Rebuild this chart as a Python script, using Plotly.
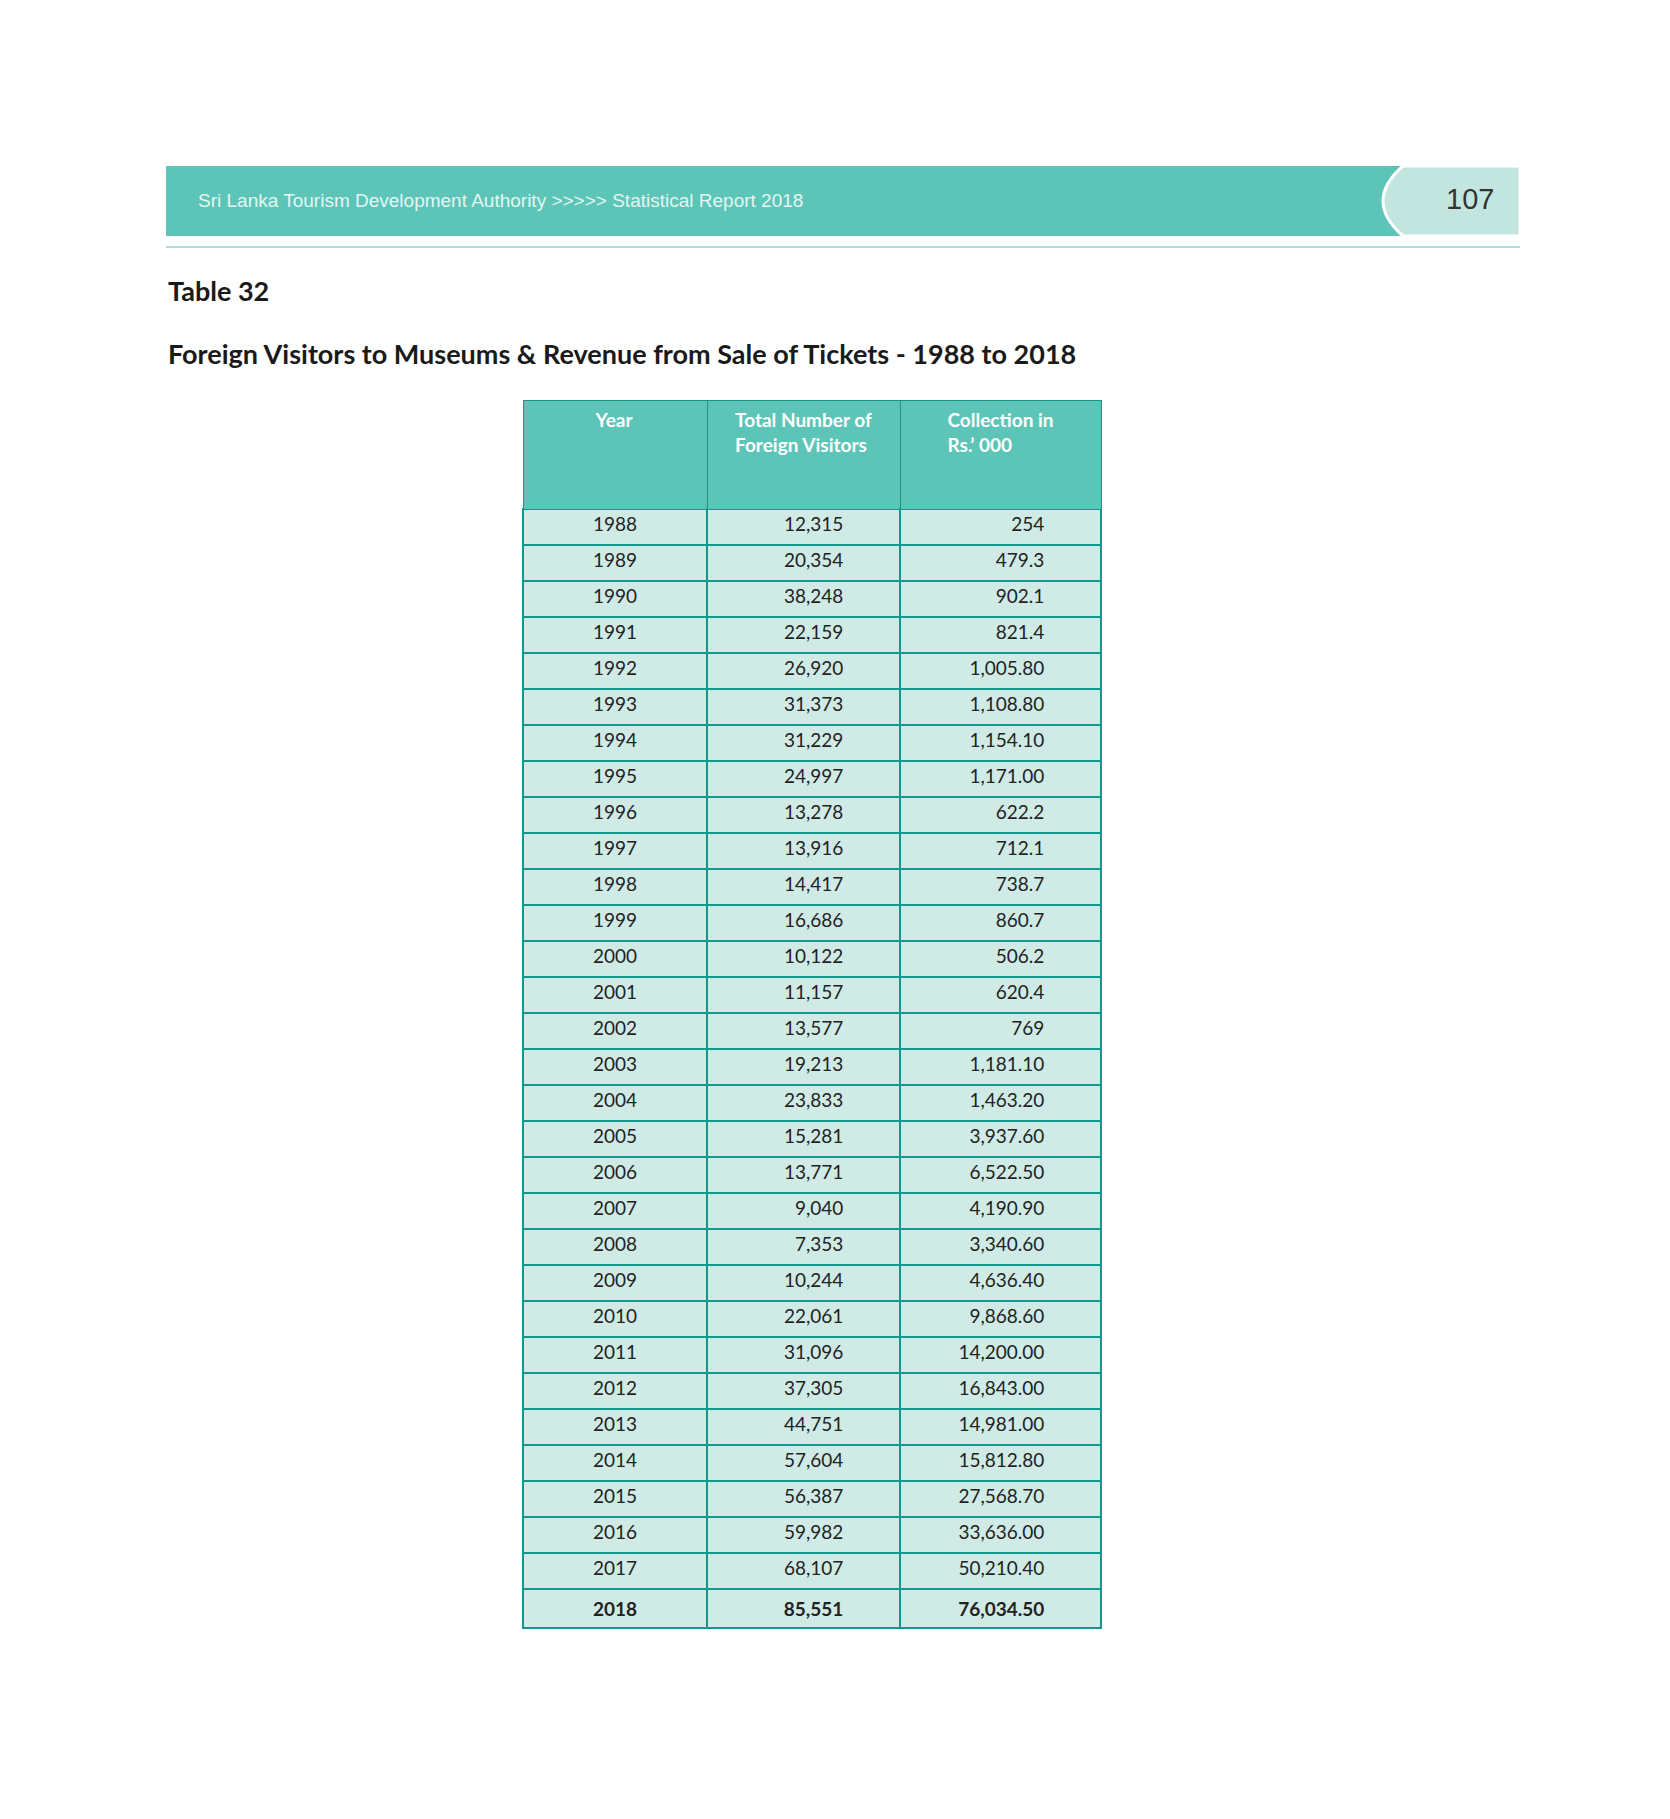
import plotly.graph_objects as go

W, H = 1670, 1819

years = list(range(1988, 2019))
visitors = [12315, 20354, 38248, 22159, 26920, 31373, 31229, 24997, 13278, 13916,
            14417, 16686, 10122, 11157, 13577, 19213, 23833, 15281, 13771, 9040,
            7353, 10244, 22061, 31096, 37305, 44751, 57604, 56387, 59982, 68107, 85551]
collection = ["254", "479.3", "902.1", "821.4", "1,005.80", "1,108.80", "1,154.10",
              "1,171.00", "622.2", "712.1", "738.7", "860.7", "506.2", "620.4", "769",
              "1,181.10", "1,463.20", "3,937.60", "6,522.50", "4,190.90", "3,340.60",
              "4,636.40", "9,868.60", "14,200.00", "16,843.00", "14,981.00", "15,812.80",
              "27,568.70", "33,636.00", "50,210.40", "76,034.50"]
headers = ["Year", "Total Number of<br>Foreign Visitors", "Collection in<br>Rs.’ 000"]

def px(x, y):
    return x / W, 1 - y / H

def bold_last(vals):
    out = [str(v) for v in vals]
    out[-1] = "<b>" + out[-1] + "</b>"
    return out

pad = "\u00a0" * 10
col_year = bold_last(years)
col_vis = [s + pad for s in bold_last([f"{v:,}" for v in visitors])]
col_col = [s + pad for s in bold_last(collection)]

teal = "#5CC5B8"
line = "#13968B"
light = "#D0EBE6"

x0, yt = px(515, 392)
x1, _ = px(1093, 0)

fig = go.Figure(go.Table(
    domain=dict(x=[x0, x1], y=[0.05, yt]),
    columnwidth=[184, 193, 201],
    header=dict(values=["<b>%s</b>" % h for h in headers], fill_color=teal,
                line=dict(color=line, width=1), height=109,
                align="center", font=dict(family="Lato", size=19, color="white")),
    cells=dict(values=[col_year, col_vis, col_col], fill_color=light,
               line=dict(color=line, width=1.5), height=36,
               align=["center", "right", "right"],
               font=dict(family="Lato", size=19, color="#222222")),
))

shapes = [
    dict(type="rect", xref="paper", yref="paper", x0=158 / W, x1=1512 / W,
         y0=1 - 228 / H, y1=1 - 158 / H, fillcolor=teal, line_width=0, layer="below"),
    dict(type="path", xref="paper", yref="paper",
         path=f"M {1395/W},{1-158/H} Q {1355/W},{1-193/H} {1395/W},{1-228/H} "
              f"L {1512/W},{1-228/H} L {1512/W},{1-158/H} Z",
         fillcolor="#C2E6DF", line=dict(color="white", width=3)),
    dict(type="line", xref="paper", yref="paper", x0=158 / W, x1=1512 / W,
         y0=1 - 239 / H, y1=1 - 239 / H, line=dict(color="#8FD3CA", width=1.5)),
]

annotations = [
    dict(text="Sri Lanka Tourism Development Authority >>>>> Statistical Report 2018",
         x=188 / W, y=1 - 192 / H, xanchor="left", yanchor="middle",
         font=dict(family="Liberation Sans", size=19, color="#E4F5F2")),
    dict(text="107", x=1488 / W, y=1 - 191 / H, xanchor="right", yanchor="middle",
         font=dict(family="Liberation Sans", size=29, color="#333333")),
    dict(text="<b>Table 32</b>", x=158 / W, y=1 - 283 / H, xanchor="left", yanchor="middle",
         font=dict(family="Lato", size=27, color="#1a1a1a")),
    dict(text="<b>Foreign Visitors to Museums & Revenue from Sale of Tickets - 1988 to 2018</b>",
         x=158 / W, y=1 - 345 / H, xanchor="left", yanchor="middle",
         font=dict(family="Lato", size=27, color="#1a1a1a")),
]
for a in annotations:
    a.update(xref="paper", yref="paper", showarrow=False)

fig.update_layout(width=W, height=H, margin=dict(l=0, r=0, t=0, b=0),
                  paper_bgcolor="white", plot_bgcolor="white",
                  shapes=shapes, annotations=annotations)
fig.write_html("out.html")
